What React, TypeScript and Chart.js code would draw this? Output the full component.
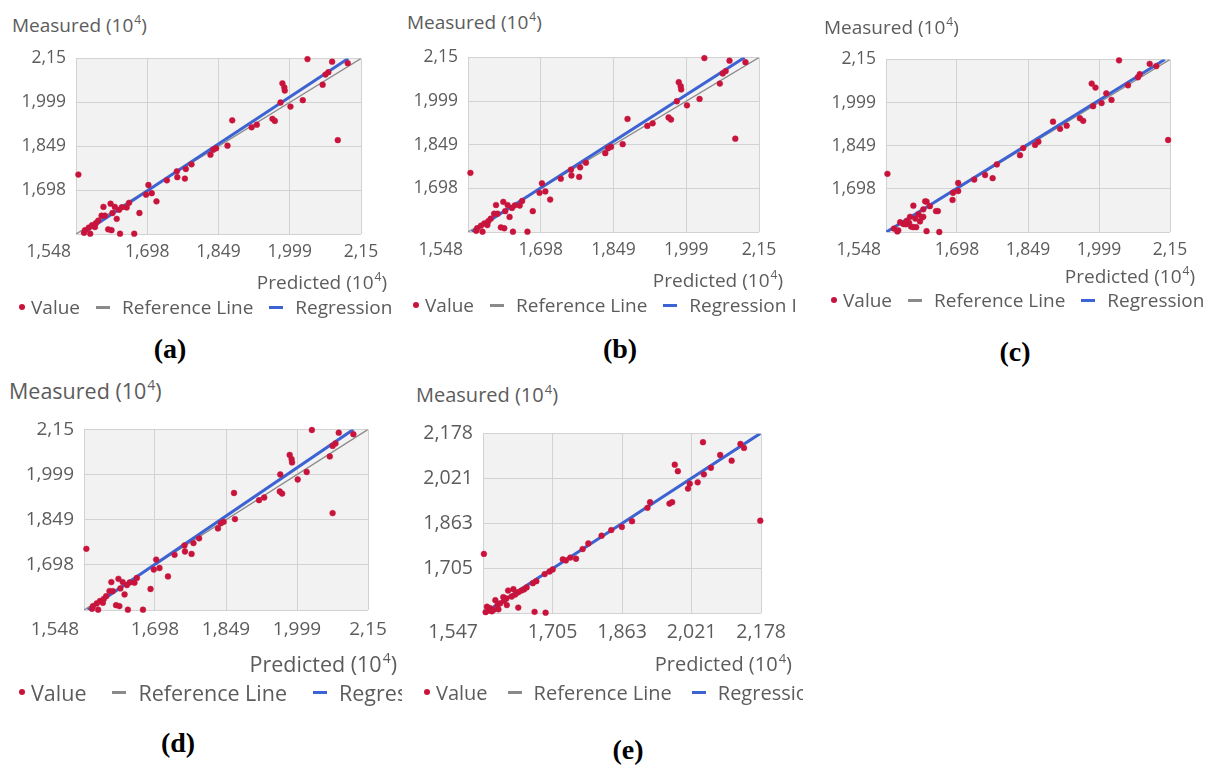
import React, { useEffect, useRef } from 'react';
import { Chart, registerables } from 'chart.js';

Chart.register(...registerables);

// ---------------- data ----------------
const tickValuesAD = [1.548, 1.6985, 1.849, 1.9995, 2.15];
const tickLabelsAD = ['1,548', '1,698', '1,849', '1,999', '2,15'];
const tickValuesE = [1.547, 1.70475, 1.8625, 2.02025, 2.178];
const tickLabelsE = ['1,547', '1,705', '1,863', '2,021', '2,178'];

const aPredicted = [1.553, 2.037, 2.089, 2.122, 2.081, 2.075, 2.069, 1.984, 1.988, 1.989, 1.980, 2.001, 2.027, 2.101, 1.878, 1.963, 1.968, 1.930, 1.919, 1.868, 1.844, 1.838, 1.832, 1.792, 1.780, 1.761, 1.778, 1.762, 1.740, 1.701, 1.696, 1.718, 1.708, 1.682, 1.655, 1.606, 1.621, 1.630, 1.639, 1.602, 1.595, 1.634, 1.616, 1.623, 1.641, 1.671, 1.578, 1.588, 1.567, 1.582, 1.609, 1.625, 1.645, 1.660, 1.575, 1.590, 1.565];
const aMeasured = [1.752, 2.148, 2.139, 2.134, 2.103, 2.095, 2.060, 2.065, 2.051, 2.040, 1.999, 1.985, 2.007, 1.870, 1.938, 1.943, 1.936, 1.923, 1.914, 1.851, 1.842, 1.837, 1.820, 1.787, 1.771, 1.763, 1.738, 1.743, 1.732, 1.716, 1.683, 1.660, 1.688, 1.620, 1.639, 1.641, 1.652, 1.641, 1.631, 1.611, 1.594, 1.600, 1.564, 1.561, 1.549, 1.549, 1.549, 1.572, 1.561, 1.578, 1.611, 1.620, 1.640, 1.655, 1.570, 1.585, 1.552];

const bPredicted = aPredicted;
const bMeasured = aMeasured;

const cPredicted = [1.551, 2.042, 2.107, 2.121, 2.086, 2.082, 2.061, 1.984, 1.992, 2.015, 2.026, 2.005, 1.987, 2.146, 1.902, 1.959, 1.966, 1.931, 1.917, 1.871, 1.864, 1.839, 1.832, 1.783, 1.774, 1.758, 1.735, 1.701, 1.689, 1.701, 1.690, 1.654, 1.631, 1.606, 1.634, 1.627, 1.641, 1.658, 1.627, 1.617, 1.634, 1.661, 1.572, 1.606, 1.574, 1.592, 1.599, 1.612, 1.601, 1.585, 1.578, 1.624, 1.565, 1.590, 1.597, 1.610, 1.620];
const cMeasured = [1.751, 2.147, 2.135, 2.127, 2.099, 2.088, 2.060, 2.066, 2.052, 2.032, 2.009, 1.998, 1.987, 1.869, 1.933, 1.945, 1.936, 1.919, 1.908, 1.863, 1.852, 1.841, 1.816, 1.784, 1.736, 1.747, 1.731, 1.719, 1.660, 1.691, 1.685, 1.621, 1.655, 1.640, 1.654, 1.627, 1.638, 1.621, 1.601, 1.610, 1.551, 1.548, 1.550, 1.565, 1.554, 1.587, 1.601, 1.565, 1.567, 1.576, 1.582, 1.599, 1.560, 1.575, 1.580, 1.595, 1.585];

const dPredicted = [1.553, 2.031, 2.088, 2.119, 2.081, 2.075, 2.069, 1.984, 1.988, 1.989, 1.964, 2.001, 2.020, 2.075, 1.866, 1.963, 1.968, 1.930, 1.919, 1.868, 1.844, 1.838, 1.832, 1.792, 1.780, 1.761, 1.776, 1.762, 1.740, 1.701, 1.696, 1.726, 1.708, 1.689, 1.655, 1.606, 1.621, 1.630, 1.639, 1.602, 1.595, 1.634, 1.616, 1.623, 1.641, 1.673, 1.578, 1.588, 1.567, 1.582, 1.609, 1.625, 1.645, 1.660, 1.575, 1.590, 1.565];
const dMeasured = [1.752, 2.148, 2.139, 2.134, 2.103, 2.095, 2.060, 2.065, 2.051, 2.040, 2.000, 1.983, 2.008, 1.871, 1.938, 1.943, 1.936, 1.923, 1.914, 1.851, 1.842, 1.837, 1.820, 1.787, 1.771, 1.763, 1.735, 1.743, 1.732, 1.716, 1.683, 1.660, 1.688, 1.618, 1.639, 1.641, 1.652, 1.641, 1.631, 1.611, 1.594, 1.600, 1.564, 1.561, 1.549, 1.549, 1.549, 1.572, 1.561, 1.578, 1.611, 1.620, 1.640, 1.655, 1.570, 1.585, 1.552];

const ePredicted = [1.549, 2.046, 2.131, 2.139, 2.085, 2.111, 2.064, 2.048, 2.034, 2.016, 2.012, 1.982, 1.989, 1.976, 1.970, 2.176, 1.926, 1.920, 1.885, 1.862, 1.838, 1.816, 1.786, 1.773, 1.758, 1.735, 1.728, 1.745, 1.698, 1.687, 1.705, 1.668, 1.660, 1.646, 1.634, 1.627, 1.640, 1.627, 1.664, 1.689, 1.601, 1.593, 1.575, 1.563, 1.556, 1.571, 1.604, 1.616, 1.586, 1.560, 1.580, 1.595, 1.612, 1.620, 1.567, 1.553, 1.582, 1.600];
const eMeasured = [1.755, 2.148, 2.142, 2.128, 2.103, 2.083, 2.058, 2.035, 2.007, 2.002, 1.985, 2.069, 2.046, 1.937, 1.932, 1.872, 1.937, 1.917, 1.870, 1.850, 1.839, 1.819, 1.792, 1.772, 1.738, 1.732, 1.736, 1.742, 1.693, 1.684, 1.700, 1.659, 1.652, 1.637, 1.626, 1.620, 1.630, 1.566, 1.551, 1.548, 1.575, 1.603, 1.592, 1.564, 1.569, 1.558, 1.626, 1.631, 1.581, 1.556, 1.575, 1.590, 1.605, 1.612, 1.553, 1.550, 1.560, 1.598];

// reference (y = x) and regression line end points
const referenceAD = [1.548, 2.15];
const referenceE = [1.547, 2.178];
const regAPredicted = [1.560, 2.123];
const regAMeasured = [1.548, 2.15];
const regBPredicted = [1.556, 2.120];
const regBMeasured = [1.548, 2.15];
const regCPredicted = [1.549, 2.139];
const regCMeasured = [1.548, 2.15];
const regDPredicted = [1.556, 2.119];
const regDMeasured = [1.548, 2.15];
const regEPredicted = [1.550, 2.175];
const regEMeasured = [1.547, 2.178];

const legendLabels = ['Value', 'Reference Line', 'Regression Line'];

// ---------------- styles ----------------
const FONT = "'Open Sans', 'Liberation Sans', Arial, sans-serif";
const TXT = '#5c5c5c';
const RED = '#c8143c';
const BLUE = '#3d63d3';
const GRAY = '#8a8a8a';
const GRID = '#d2d2d2';
const PLOT_BG = '#f2f2f2';

type Rect = { l: number; t: number; r: number; b: number };
type PanelCfg = {
  tag: string;
  px: number[]; py: number[];
  rx: number[]; ry: number[];
  ref: number[];
  ticks: number[]; labels: string[];
  plot: Rect;
  tickSize: number;
  labelSize: number;
  legendGap: number;
  title: { x: number; y: number };
  pred: { r: number; y: number };
  legend: { x: number; y: number; r: number };
  tagPos: { x: number; y: number };
};

const panels: PanelCfg[] = [
  { tag: '(a)', px: aPredicted, py: aMeasured, rx: regAPredicted, ry: regAMeasured, ref: referenceAD, ticks: tickValuesAD, labels: tickLabelsAD,
    plot: { l: 76, t: 52, r: 361, b: 234 }, tickSize: 17.5, labelSize: 19, legendGap: 16, title: { x: 12, y: 25 }, pred: { r: 387, y: 282 }, legend: { x: 19, y: 307, r: 391 }, tagPos: { x: 170, y: 349 } },
  { tag: '(b)', px: bPredicted, py: bMeasured, rx: regBPredicted, ry: regBMeasured, ref: referenceAD, ticks: tickValuesAD, labels: tickLabelsAD,
    plot: { l: 468, t: 51, r: 759, b: 232 }, tickSize: 17.5, labelSize: 19, legendGap: 16, title: { x: 407, y: 22 }, pred: { r: 783, y: 280 }, legend: { x: 413, y: 305, r: 795 }, tagPos: { x: 620, y: 349 } },
  { tag: '(c)', px: cPredicted, py: cMeasured, rx: regCPredicted, ry: regCMeasured, ref: referenceAD, ticks: tickValuesAD, labels: tickLabelsAD,
    plot: { l: 886, t: 53, r: 1170, b: 232 }, tickSize: 17.5, labelSize: 19, legendGap: 16, title: { x: 824, y: 27 }, pred: { r: 1195, y: 276 }, legend: { x: 831, y: 300, r: 1203 }, tagPos: { x: 1015, y: 352 } },
  { tag: '(d)', px: dPredicted, py: dMeasured, rx: regDPredicted, ry: regDMeasured, ref: referenceAD, ticks: tickValuesAD, labels: tickLabelsAD,
    plot: { l: 84, t: 422, r: 368, b: 610 }, tickSize: 19, labelSize: 21.5, legendGap: 26, title: { x: 9, y: 390 }, pred: { r: 397, y: 663 }, legend: { x: 19, y: 692, r: 402 }, tagPos: { x: 178, y: 743 } },
  { tag: '(e)', px: ePredicted, py: eMeasured, rx: regEPredicted, ry: regEMeasured, ref: referenceE, ticks: tickValuesE, labels: tickLabelsE,
    plot: { l: 483, t: 426, r: 764, b: 613 }, tickSize: 19.5, labelSize: 20, legendGap: 20, title: { x: 416, y: 394 }, pred: { r: 792, y: 663 }, legend: { x: 424, y: 692, r: 803 }, tagPos: { x: 628, y: 750 } },
];

const Y_AXIS_W = 70;
const X_AXIS_H = 40;
const PAD_TOP = 14;
const PAD_RIGHT = 30;

const decor = {
  id: 'decor',
  beforeDraw(chart: any) {
    const { ctx, chartArea: a } = chart;
    ctx.save();
    ctx.fillStyle = PLOT_BG;
    ctx.fillRect(a.left, a.top, a.right - a.left, a.bottom - a.top);
    ctx.restore();
  },
  afterDraw(chart: any, _args: any, opts: any) {
    const { ctx } = chart;
    const xs: any = chart.scales.x;
    let y = xs.top + 9 + 12;
    let baseline = 'middle';
    try {
      const items = xs.getLabelItems();
      if (items && items[1]) {
        y = items[1].options.translation[1] + (items[1].textOffset || 0);
        baseline = items[1].options.textBaseline;
      }
    } catch (e) { /* ignore */ }
    ctx.save();
    ctx.font = `${opts.size}px ${FONT}`;
    ctx.fillStyle = TXT;
    ctx.textAlign = 'right';
    ctx.textBaseline = baseline;
    ctx.fillText(opts.firstLabel, xs.getPixelForValue(xs.min) - 5, y);
    ctx.restore();
  },
};

function Panel({ p }: { p: PanelCfg }) {
  const ref = useRef<HTMLCanvasElement>(null);
  const w = p.plot.r - p.plot.l + Y_AXIS_W + PAD_RIGHT;
  const h = p.plot.b - p.plot.t + PAD_TOP + X_AXIS_H;

  useEffect(() => {
    const lo = p.ticks[0];
    const hi = p.ticks[p.ticks.length - 1];
    const chart = new Chart(ref.current as HTMLCanvasElement, {
      type: 'scatter',
      data: {
        datasets: [
          {
            label: legendLabels[0],
            data: p.px.map((x, i) => ({ x, y: p.py[i] })),
            backgroundColor: RED,
            borderColor: RED,
            borderWidth: 0.5,
            pointRadius: 2.9,
            pointHoverRadius: 2.9,
            clip: false as any,
            order: 0,
          },
          {
            label: legendLabels[2],
            data: p.rx.map((x, i) => ({ x, y: p.ry[i] })),
            showLine: true,
            borderColor: BLUE,
            borderWidth: 3,
            pointRadius: 0,
            order: 1,
          },
          {
            label: legendLabels[1],
            data: p.ref.map((v) => ({ x: v, y: v })),
            showLine: true,
            borderColor: GRAY,
            borderWidth: 1.3,
            pointRadius: 0,
            order: 2,
          },
        ] as any,
      },
      options: {
        responsive: false,
        animation: false,
        events: [],
        layout: { padding: { top: PAD_TOP, right: PAD_RIGHT, left: 0, bottom: 0 } },
        plugins: {
          legend: { display: false },
          tooltip: { enabled: false },
          decor: { firstLabel: p.labels[0], size: p.tickSize },
        } as any,
        scales: {
          x: {
            type: 'linear',
            min: lo,
            max: hi,
            afterBuildTicks: (s: any) => { s.ticks = p.ticks.map((v) => ({ value: v })); },
            afterFit: (s: any) => { s.height = X_AXIS_H; },
            ticks: {
              callback: (_v: any, i: number) => (i === 0 ? '' : p.labels[i]),
              font: { family: FONT, size: p.tickSize },
              color: TXT,
              padding: 8,
              maxRotation: 0,
              autoSkip: false,
            },
            grid: { color: GRID, drawTicks: false, lineWidth: 1 },
            border: { display: false },
          },
          y: {
            type: 'linear',
            min: lo,
            max: hi,
            afterBuildTicks: (s: any) => { s.ticks = p.ticks.map((v) => ({ value: v })); },
            afterFit: (s: any) => { s.width = Y_AXIS_W; },
            ticks: {
              callback: (_v: any, i: number) => (i === 0 ? '' : p.labels[i]),
              font: { family: FONT, size: p.tickSize },
              color: TXT,
              padding: 10,
              autoSkip: false,
            },
            grid: { color: GRID, drawTicks: false, lineWidth: 1 },
            border: { display: false },
          },
        } as any,
      },
      plugins: [decor as any],
    });
    return () => chart.destroy();
  }, []);

  const lh = Math.round(p.labelSize * 1.25);
  const textStyle: React.CSSProperties = {
    position: 'absolute',
    fontFamily: FONT,
    fontSize: p.labelSize,
    color: TXT,
    lineHeight: `${lh}px`,
    height: lh,
    whiteSpace: 'nowrap',
  };
  const sup: React.CSSProperties = { fontSize: Math.round(p.labelSize * 0.63), position: 'relative', top: -Math.round(p.labelSize * 0.42), marginLeft: 1 };
  const half = lh / 2;
  const dash = (color: string): React.CSSProperties => ({
    display: 'inline-block', width: 14, height: 3, background: color, marginLeft: p.legendGap, marginRight: 12, flex: 'none',
  });

  return (
    <>
      <canvas
        ref={ref}
        width={w}
        height={h}
        style={{ position: 'absolute', left: p.plot.l - Y_AXIS_W, top: p.plot.t - PAD_TOP, width: w, height: h }}
      />
      <div style={{ ...textStyle, left: p.title.x, top: p.title.y - half }}>
        Measured (10<span style={sup}>4</span>)
      </div>
      <div style={{ ...textStyle, right: 1213 - p.pred.r, top: p.pred.y - half }}>
        Predicted (10<span style={sup}>4</span>)
      </div>
      <div
        style={{
          ...textStyle,
          left: p.legend.x,
          top: p.legend.y - half,
          width: p.legend.r - p.legend.x,
          overflow: 'hidden',
          display: 'flex',
          alignItems: 'center',
        }}
      >
        <span style={{ display: 'inline-block', width: 6, height: 6, borderRadius: 3, background: RED, marginRight: 6, flex: 'none' }} />
        <span style={{ flex: 'none' }}>{legendLabels[0]}</span>
        <span style={dash(GRAY)} />
        <span style={{ flex: 'none' }}>{legendLabels[1]}</span>
        <span style={dash(BLUE)} />
        <span style={{ flex: 'none' }}>{legendLabels[2]}</span>
      </div>
      <div
        style={{
          position: 'absolute',
          left: p.tagPos.x - 40,
          width: 80,
          top: p.tagPos.y - 17,
          height: 34,
          lineHeight: '34px',
          textAlign: 'center',
          fontFamily: "'Liberation Serif', 'Times New Roman', serif",
          fontWeight: 'bold',
          fontSize: 28,
          color: '#000',
        }}
      >
        {p.tag}
      </div>
    </>
  );
}

export default function App() {
  return (
    <div style={{ position: 'absolute', left: 0, top: 0, width: 1213, height: 769, background: '#fff', overflow: 'hidden' }}>
      {panels.map((p) => (
        <Panel key={p.tag} p={p} />
      ))}
    </div>
  );
}
